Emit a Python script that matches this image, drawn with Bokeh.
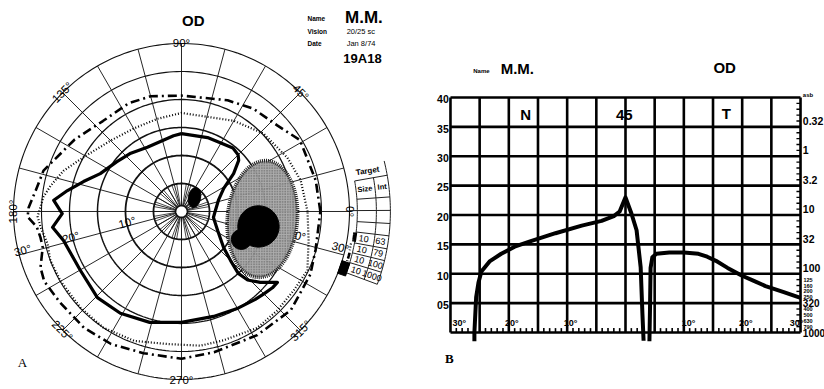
import numpy as np
from bokeh.plotting import figure
from bokeh.layouts import row
from bokeh.models import ColumnDataSource
from bokeh.embed import file_html
from bokeh.resources import INLINE
from bokeh.core.properties import value

SANS = value("Liberation Sans")
SERIF = value("Liberation Serif")

# ---------------- Panel A: kinetic visual field, right eye ----------------
RING_ECC = [5, 10, 15, 20, 25, 30]
RING_WIDTH = [1.8, 1.8, 1.5, 1.3, 1.1, 1.1]
INNER_SPOKES = list(range(0, 360, 10))
OUTER_SPOKES = list(range(0, 360, 15))
MERIDIAN_ANG = [90, 45, 0, 315, 270, 225, 180, 135]
MERIDIAN_TEXT = ["90°", "45°", "0°", "315°", "270°", "225°", "180°", "135°"]
ECC_VAL = [10, 20, 30]
ECC_TEXT = ["10°", "20°", "30°"]

# isopters: meridian (deg) / eccentricity (deg), in drawing order
ISO_100_MER = [0, 13, 31, 42, 55, 67.5, 90, 105, 116, 131, 146, 163.5, 171.8, 178.5,
               182, 186, 190.5, 194.5, 201.7, 207, 217, 230, 242, 255, 270, 283, 301.5,
               318, 334, 344, 360]
ISO_100_ECC = [24.8, 24.6, 24.7, 23.0, 22.4, 21.5, 20.7, 21.3, 21.5, 21.4, 23.0, 25.7,
               26.3, 27.3, 27.5, 26.0, 25.6, 25.6, 27.1, 27.5, 27.1, 27.1, 26.8, 26.2,
               26.3, 25.8, 25.9, 26.3, 25.6, 24.9, 24.8]

ISO_79_MER = [0, 14.6, 27, 43.6, 60, 90, 104.5, 120, 135, 151, 161, 168.8, 174, 182,
              186.5, 193.4, 200.5, 210, 223.5, 236, 250, 264, 278, 288, 303, 314, 325,
              335, 347, 360]
ISO_79_ECC = [22.5, 22.0, 21.2, 20.2, 18.7, 17.6, 17.1, 17.1, 17.9, 20.0, 22.3, 23.8,
              24.8, 25.7, 25.3, 24.6, 25.0, 24.9, 24.9, 25.0, 24.6, 23.8, 24.2,
              24.2, 24.8, 24.6, 24.5, 24.8, 23.3, 22.5]

ISO_63_MER = [90, 96, 118, 131, 142.6, 155, 163, 169.6, 175, 181, 187, 193.8, 210,
              225.7, 239, 254, 270, 287, 300.3, 310, 315, 320, 323.5, 318, 314, 312.5,
              315, 319.4, 332.2, 349.4, 360, 377, 388.7, 396, 401.8, 405, 411, 430.6, 450]
ISO_63_ECC = [13.9, 13.6, 13.0, 13.8, 14.6, 16.0, 18.3, 20.7, 22.9, 21.3, 23.2, 21.7,
              20.9, 21.5, 21.2, 20.6, 19.8, 19.6, 20.0, 20.5, 20.8, 21.2, 21.3, 18.9,
              17.0, 15.0, 12.4, 9.9, 7.3, 5.8, 6.0, 6.9, 8.6, 11.5, 13.7, 14.3, 14.6,
              14.0, 13.9]

# blind spot (stippled zone) and absolute scotomas
BLIND_MER, BLIND_ECC, BLIND_W, BLIND_H, BLIND_TILT = -5.3, 14.5, 12.5, 20.9, -5
SCOT_MER = [-11, -25]
SCOT_ECC = [14.0, 11.8]
SCOT_RAD = [3.7, 1.8]
SMALL_MER, SMALL_ECC, SMALL_W, SMALL_H, SMALL_TILT = 47, 3.4, 2.2, 3.6, -10

# target legend
TARGET_SIZE = ["10", "10", "10", "10"]
TARGET_INT = ["63", "79", "100", "1000"]

# ---------------- Panel B: static profile along the 45 meridian ----------------
DB_TICKS = [40, 35, 30, 25, 20, 15, 10, 5]
DB_TEXT = ["40", "35", "30", "25", "20", "15", "10", "05"]
ASB_BIG_DB = [35, 30, 25, 20, 15, 10]
ASB_BIG_TEXT = ["0.32", "1", "3.2", "10", "32", "100"]
ASB_LOW_DB = [5, 0]
ASB_LOW_TEXT = ["320", "1000"]
ASB_SMALL_DB = [9, 8, 7, 6, 4, 3, 2, 1]
ASB_SMALL_TEXT = ["125", "160", "200", "250", "400", "500", "630", "790"]
ECC_TICK_POS = [-28.5, -19.5, -9.4, 10.8, 20.6, 29.3]
ECC_TICK_TEXT = ["30°", "20°", "10°", "10°", "20°", "30°"]

NASAL_DEG = [-25.9, -25.9, -25.6, -25.2, -24.7, -23.3, -21.3, -19.0, -16.1, -12.0,
             -7.5, -4.1, -2.0, -1.0, 0.0, 1.0, 1.9, 2.6, 2.9, 3.1]
NASAL_DB = [-1.5, 0.0, 6.0, 8.5, 10.4, 12.1, 13.4, 14.6, 15.6, 16.9,
            18.2, 19.0, 19.8, 20.6, 23.0, 20.3, 17.4, 11.1, 3.2, -1.4]
TEMPORAL_DEG = [4.1, 4.2, 4.3, 4.6, 5.3, 7.5, 10.0, 12.5, 14.0, 15.5, 17.5, 19.9,
                22.0, 24.0, 27.0, 30.0]
TEMPORAL_DB = [-1.5, 4.0, 11.0, 12.8, 13.4, 13.6, 13.6, 13.4, 12.9, 12.2, 11.0, 9.7,
               8.8, 7.9, 6.9, 5.9]


def polar_xy(mer, ecc):
    m = np.radians(np.asarray(mer, dtype=float))
    e = np.asarray(ecc, dtype=float)
    return e * np.cos(m), e * np.sin(m)


def arc(r, a0, a1, n=160):
    a = np.linspace(a0, a1, n)
    return polar_xy(a, np.full_like(a, r))


def texts(p, xs, ys, labels, size, angle=0, style="normal", font=SANS,
          align="center", baseline="middle", color="black"):
    n = len(labels)
    ang = list(angle) if isinstance(angle, (list, np.ndarray)) else [angle] * n
    src = ColumnDataSource(dict(x=list(xs), y=list(ys), t=list(labels), a=ang))
    p.text(x="x", y="y", text="t", angle="a", angle_units="deg", source=src,
           text_font=font, text_font_size=size, text_font_style=style,
           text_align=align, text_baseline=baseline, text_color=color)


# ---------------- figure A ----------------
pa = figure(width=412, height=389, x_range=(-32.32, 41.25), y_range=(-31.79, 37.68),
            output_backend="svg", toolbar_location=None, min_border=0,
            x_axis_type=None, y_axis_type=None, outline_line_color=None,
            background_fill_color="white", border_fill_color="white")
pa.grid.visible = False

# meridian spokes
xs, ys = [], []
for a in INNER_SPOKES:
    x, y = polar_xy([a, a], [1.05, 5])
    xs.append(list(x)); ys.append(list(y))
pa.multi_line(xs, ys, line_color="#1a1a1a", line_width=0.8)
xs, ys = [], []
for a in OUTER_SPOKES:
    x, y = polar_xy([a, a], [1.05, 30])
    xs.append(list(x)); ys.append(list(y))
pa.multi_line(xs, ys, line_color="#1a1a1a", line_width=0.95)

# rings
for r, w in zip(RING_ECC, RING_WIDTH):
    x, y = arc(r, 0, 360, 240)
    pa.line(x, y, line_color="#111", line_width=w)
hx, hy = arc(1.05, 0, 360, 60)
pa.patch(hx, hy, fill_color="white", line_color="#111", line_width=1.6)

# meridian and eccentricity labels
mx, my = polar_xy(MERIDIAN_ANG, [30.1] * len(MERIDIAN_ANG))
mang = [a - 90 if (a <= 180) else a - 270 for a in MERIDIAN_ANG]
texts(pa, mx, my, MERIDIAN_TEXT, "11.5px", mang)
lx, ly = polar_xy([191.5, 193.2, 193.8], [9.9, 20.3, 29.2])
texts(pa, lx, ly, ECC_TEXT, "11.5px", 15)
rx, ry = polar_xy([-12.0, -11.7, -12.8], [10.0, 21.1, 29.1])
texts(pa, rx, ry, ECC_TEXT, "11.5px", -15)

# stippled blind-spot zone
bx, by = polar_xy([BLIND_MER], [BLIND_ECC])
pa.ellipse(x=bx, y=by, width=BLIND_W, height=BLIND_H, angle=np.radians(BLIND_TILT),
           fill_color="#a8a8a8", fill_alpha=0.95, hatch_pattern="dot",
           hatch_color="#4a4a4a", hatch_scale=2.6, hatch_weight=1.2,
           line_color="#222", line_width=3.6, line_dash="1 1")

# absolute scotomas
sx, sy = polar_xy(SCOT_MER, SCOT_ECC)
pa.circle(x=sx, y=sy, radius=SCOT_RAD, fill_color="black", line_color="black")
qx, qy = polar_xy([SMALL_MER], [SMALL_ECC])
pa.ellipse(x=qx, y=qy, width=SMALL_W, height=SMALL_H, angle=np.radians(SMALL_TILT),
           fill_color="black", line_color="black")

# isopters
x, y = polar_xy(ISO_100_MER, ISO_100_ECC)
pa.line(x, y, line_color="black", line_width=2.6, line_dash="9 4 2 4")
x, y = polar_xy(ISO_79_MER, ISO_79_ECC)
pa.line(x, y, line_color="black", line_width=2.2, line_dash="1 2")
x, y = polar_xy(ISO_63_MER, ISO_63_ECC)
pa.line(x, y, line_color="black", line_width=3.2, line_join="round")

# target legend (curved table on the rim)
ROW_ANG = [10, 4.0, 0.3, -3.3, -6.7, -10.3, -13.6, -16.9, -20.4]
R_IN, R_MID, R_OUT = 31.4, 34.8, 37.3
xs, ys = [], []
for r, a0 in ((R_IN, 10), (R_MID, 10), (R_OUT, 14)):
    x, y = arc(r, a0, ROW_ANG[-1], 40)
    xs.append(list(x)); ys.append(list(y))
for a in ROW_ANG:
    r0 = 30 if a == 0.3 else R_IN
    x, y = polar_xy([a, a], [r0, R_OUT])
    xs.append(list(x)); ys.append(list(y))
pa.multi_line(xs, ys, line_color="#222", line_width=1.0)
tx, ty = polar_xy([12.3], [34.0])
texts(pa, tx, ty, ["Target"], "8px", 9, "bold")
hx, hy = polar_xy([7.0, 7.0], [33.0, 36.1])
texts(pa, hx, hy, ["Size", "Int"], "7.5px", 6, "bold")
row_mid = [(ROW_ANG[i] + ROW_ANG[i + 1]) / 2 for i in range(4, 8)]
cx, cy = polar_xy(row_mid, [32.9] * 4)
texts(pa, cx, cy, TARGET_SIZE, "9px", row_mid)
ix, iy = polar_xy(row_mid, [35.9] * 4)
texts(pa, ix, iy, TARGET_INT, "9px", row_mid)
# legend line samples
x, y = arc(R_IN - 0.15, ROW_ANG[4] - 0.2, ROW_ANG[5] + 0.4, 10)
pa.line(x, y, line_color="black", line_width=4)
x, y = arc(30.8, ROW_ANG[5] - 0.4, ROW_ANG[6] + 0.4, 10)
pa.line(x, y, line_color="black", line_width=2.2, line_dash="1 2")
x, y = arc(30.9, ROW_ANG[6] - 0.2, ROW_ANG[7] + 0.2, 10)
pa.line(x, y, line_color="black", line_width=2.6, line_dash="6 2 2 2")
kx, ky = polar_xy([-19.3], [30.7])
pa.rect(x=kx, y=ky, width=1.5, height=2.4, angle=np.radians(-19), fill_color="black",
        line_color="black")

# header texts
texts(pa, [2.1], [34.1], ["OD"], "15px", 0, "bold")
texts(pa, [22.5, 22.5, 22.5], [34.5, 32.1, 30.0], ["Name", "Vision", "Date"], "6.5px",
      0, "bold", align="left")
texts(pa, [29.2], [34.7], ["M.M."], "17px", 0, "bold", align="left")
texts(pa, [29.5, 29.5], [32.1, 30.0], ["20/25 sc", "Jan 8/74"], "7.5px", 0,
      align="left")
texts(pa, [28.9], [27.3], ["19A18"], "13px", 0, "bold", align="left")
texts(pa, [-28.4], [-27.0], ["A"], "13px", 0, font=SERIF)

# ---------------- figure B ----------------
pb = figure(width=412, height=389, x_range=(-36.51, 34.11), y_range=(-9.70, 56.51),
            output_backend="svg", toolbar_location=None, min_border=0,
            x_axis_type=None, y_axis_type=None, outline_line_color=None,
            background_fill_color="white", border_fill_color="white")
pb.grid.visible = False

GRID_X = list(range(-30, 31, 5))
GRID_Y = list(range(0, 41, 5))
pb.multi_line([[g, g] for g in GRID_X], [[0, 40]] * len(GRID_X),
              line_color="black", line_width=2.6)
pb.multi_line([[-30, 30]] * len(GRID_Y), [[g, g] for g in GRID_Y],
              line_color="black", line_width=2.6)

# ruler ticks along the base and the right edge
bt = [d for d in range(-29, 30) if d % 5]
pb.multi_line([[d, d] for d in bt], [[0, 0.75]] * len(bt), line_color="black",
              line_width=1.6)
rt = [d for d in range(1, 40) if d % 5]
pb.multi_line([[29.3, 30]] * len(rt), [[d, d] for d in rt], line_color="black",
              line_width=1.4)

# profile
pb.line(NASAL_DEG, NASAL_DB, line_color="black", line_width=4, line_join="round")
pb.line(TEMPORAL_DEG, TEMPORAL_DB, line_color="black", line_width=4, line_join="round")

# labels
texts(pb, [-30.3] * len(DB_TICKS), [v - 0.3 for v in DB_TICKS], DB_TEXT, "10.5px", 0,
      "bold", align="right")
texts(pb, [30.4] * len(ASB_BIG_DB), [v + 0.3 for v in ASB_BIG_DB], ASB_BIG_TEXT,
      "10.5px", 0, "bold", align="left", baseline="bottom")
texts(pb, [30.4] * len(ASB_LOW_DB), ASB_LOW_DB, ASB_LOW_TEXT, "10px", 0, "bold",
      align="left")
texts(pb, [30.5] * len(ASB_SMALL_DB), ASB_SMALL_DB, ASB_SMALL_TEXT, "5.5px", 0, "bold",
      align="left")
texts(pb, [30.4], [40.4], ["asb"], "6px", 0, "bold", align="left")
texts(pb, ECC_TICK_POS, [1.6] * len(ECC_TICK_POS), ECC_TICK_TEXT, "9px", 0, "bold")

texts(pb, [-26.1], [44.5], ["Name"], "6px", 0, "bold", align="left")
texts(pb, [-21.4], [44.9], ["M.M."], "15px", 0, "bold", align="left")
texts(pb, [17.0], [45.1], ["OD"], "15px", 0, "bold")
texts(pb, [-17.1, -0.2, 17.3], [37.1, 37.1, 37.3], ["N", "45", "T"], "15px", 0, "bold")
texts(pb, [-30.2], [-4.4], ["B"], "13px", 0, "bold", font=SERIF)

layout = row(pa, pb)
open("out.html", "w").write(file_html(layout, INLINE))
